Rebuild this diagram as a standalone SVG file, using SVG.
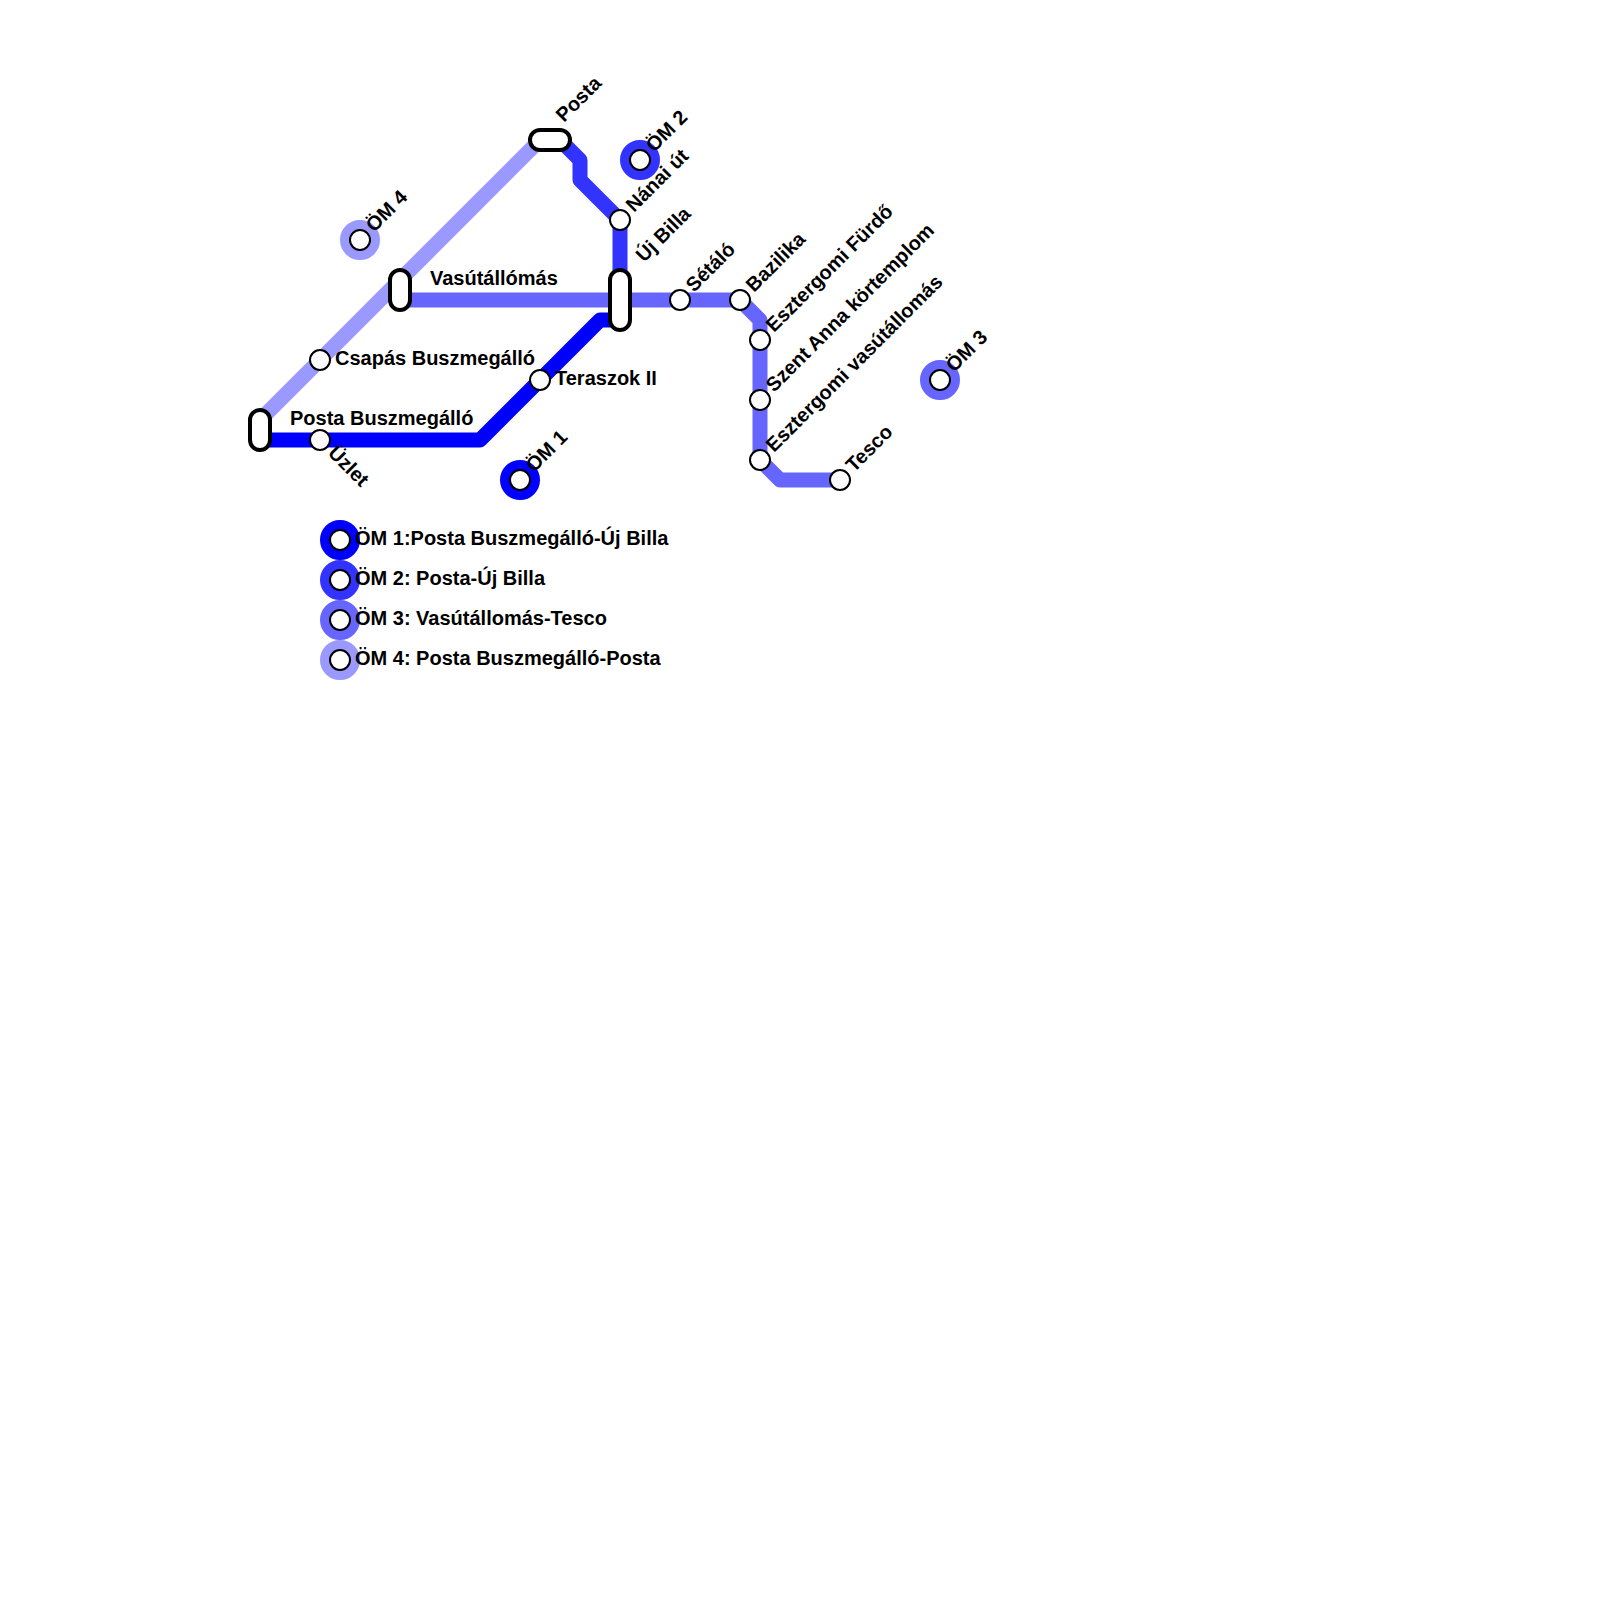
<svg xmlns="http://www.w3.org/2000/svg" width="1600" height="1600" viewBox="0 0 1600 1600">
<style>
.l{fill:none;stroke-width:15;stroke-linejoin:round}
.s{fill:#fff;stroke:#000;stroke-width:2}
.r{fill:#fff;stroke:#000;stroke-width:4}
.o{fill:none;stroke-width:10}
text{font-family:"Liberation Sans",Arial,sans-serif;font-weight:700;font-size:20px;fill:#000}
</style>
<rect width="1600" height="1600" fill="#fff"/>
<g id="connectors">
<path class="l" stroke="#9999ff" d="M260 420L540 140"/>
<path class="l" stroke="#3333ff" d="M550 140L560 140L580 160L580 180L620 220L620 300"/>
<path class="l" stroke="#6666ff" d="M400 300L740 300L760 320L760 460L780 480L840 480"/>
<path class="l" stroke="#0000ff" d="M260 440L480 440L600 320L620 320"/>
</g>
<g id="n-posta"><rect class="r" x="530" y="130" width="40" height="20" rx="10"/><text transform="translate(564 123) rotate(-45)">Posta</text></g>
<g id="n-vasut"><rect class="r" x="390" y="270" width="20" height="40" rx="10"/><text x="430" y="285">Vasútállómás</text></g>
<g id="n-postabusz"><rect class="r" x="250" y="410" width="20" height="40" rx="10"/><text x="290" y="425">Posta Buszmegálló</text></g>
<g id="n-ujbilla"><rect class="r" x="610" y="270" width="20" height="60" rx="10"/><text transform="translate(644 263) rotate(-45)">Új Billa</text></g>
<g id="n-csapas"><circle class="s" cx="320" cy="360" r="10"/><text x="335" y="365">Csapás Buszmegálló</text></g>
<g id="n-uzlet"><circle class="s" cx="320" cy="440" r="10"/><text transform="translate(327 454) rotate(45)">Üzlet</text></g>
<g id="n-teraszok"><circle class="s" cx="540" cy="380" r="10"/><text x="555" y="385">Teraszok II</text></g>
<g id="n-nanai"><circle class="s" cx="620" cy="220" r="10"/><text transform="translate(634 213) rotate(-45)">Nánai út</text></g>
<g id="n-setalo"><circle class="s" cx="680" cy="300" r="10"/><text transform="translate(694 293) rotate(-45)">Sétáló</text></g>
<g id="n-bazilika"><circle class="s" cx="740" cy="300" r="10"/><text transform="translate(754 293) rotate(-45)">Bazilika</text></g>
<g id="n-furdo"><circle class="s" cx="760" cy="340" r="10"/><text transform="translate(774 333) rotate(-45)">Esztergomi Fürdő</text></g>
<g id="n-korte"><circle class="s" cx="760" cy="400" r="10"/><text transform="translate(774 393) rotate(-45)">Szent Anna körtemplom</text></g>
<g id="n-vasutallomas"><circle class="s" cx="760" cy="460" r="10"/><text transform="translate(774 453) rotate(-45)">Esztergomi vasútállomás</text></g>
<g id="n-tesco"><circle class="s" cx="840" cy="480" r="10"/><text transform="translate(854 473) rotate(-45)">Tesco</text></g>
<g id="n-om1"><circle class="o" stroke="#0000ff" cx="520" cy="480" r="15"/><circle class="s" cx="520" cy="480" r="10"/><text transform="translate(534 473) rotate(-45)">ÖM 1</text></g>
<g id="n-om2"><circle class="o" stroke="#3333ff" cx="640" cy="160" r="15"/><circle class="s" cx="640" cy="160" r="10"/><text transform="translate(654 153) rotate(-45)">ÖM 2</text></g>
<g id="n-om3"><circle class="o" stroke="#6666ff" cx="940" cy="380" r="15"/><circle class="s" cx="940" cy="380" r="10"/><text transform="translate(954 373) rotate(-45)">ÖM 3</text></g>
<g id="n-om4"><circle class="o" stroke="#9999ff" cx="360" cy="240" r="15"/><circle class="s" cx="360" cy="240" r="10"/><text transform="translate(374 233) rotate(-45)">ÖM 4</text></g>
<g id="legend-1"><circle class="o" stroke="#0000ff" cx="340" cy="540" r="15"/><circle class="s" cx="340" cy="540" r="10"/><text x="355" y="545">ÖM 1:Posta Buszmegálló-Új Billa</text></g>
<g id="legend-2"><circle class="o" stroke="#3333ff" cx="340" cy="580" r="15"/><circle class="s" cx="340" cy="580" r="10"/><text x="355" y="585">ÖM 2: Posta-Új Billa</text></g>
<g id="legend-3"><circle class="o" stroke="#6666ff" cx="340" cy="620" r="15"/><circle class="s" cx="340" cy="620" r="10"/><text x="355" y="625">ÖM 3: Vasútállomás-Tesco</text></g>
<g id="legend-4"><circle class="o" stroke="#9999ff" cx="340" cy="660" r="15"/><circle class="s" cx="340" cy="660" r="10"/><text x="355" y="665">ÖM 4: Posta Buszmegálló-Posta</text></g>
</svg>
